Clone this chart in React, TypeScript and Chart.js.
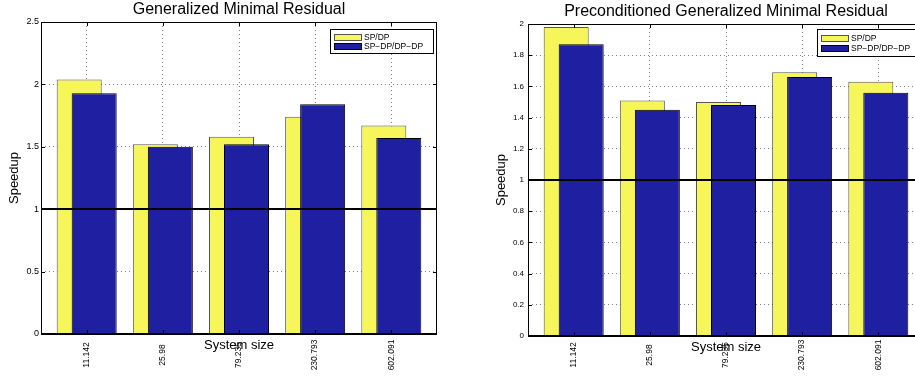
import React, { useEffect, useRef } from 'react';
import { Chart, registerables } from 'chart.js';

Chart.register(...registerables);

// ---------- data ----------
const systemSizes = ['11.142', '25.98', '79.235', '230.793', '602.091'];
const seriesLabels = ['SP/DP', 'SP\u2212DP/DP\u2212DP'];

const gmresSpDp = [2.04, 1.52, 1.58, 1.74, 1.67];
const gmresMixed = [1.93, 1.5, 1.52, 1.84, 1.57];
const pgmresSpDp = [1.98, 1.51, 1.5, 1.69, 1.63];
const pgmresMixed = [1.87, 1.45, 1.48, 1.66, 1.56];

const gmresYTicks = [0, 0.5, 1, 1.5, 2, 2.5];
const pgmresYTicks = [0, 0.2, 0.4, 0.6, 0.8, 1, 1.2, 1.4, 1.6, 1.8, 2];

const referenceSpeedup = 1;
const xLimits = [0.4, 5.6];

// ---------- style ----------
const FONT = "'Liberation Sans', Arial, Helvetica, sans-serif";
const YELLOW = '#f6f55a';
const YELLOW_EDGE = '#555555';
const BLUE = '#1f1fa1';
const BLUE_EDGE = '#000000';
const GRID = 'rgba(0,0,0,0.5)';

type Layout = {
  title: string;
  a: number[];
  b: number[];
  yTicks: number[];
  canvasLeft: number;
  canvasWidth: number;
  padRight: number;
  yWidth: number;
  xHeight: number;
  titlePadTop: number;
  titlePadBottom: number;
  yTitlePad: number;
  xTitlePad: number;
  yTickFont: number;
  yTickPad: number;
  xTickFont: number;
  xTickCenter: number;
  legendTop: number;
  legendHeight: number;
  legendRow: number;
  legendFont: number;
};

const leftLayout: Layout = {
  title: 'Generalized Minimal Residual',
  a: gmresSpDp,
  b: gmresMixed,
  yTicks: gmresYTicks,
  canvasLeft: 0,
  canvasWidth: 460,
  padRight: 23,
  yWidth: 41,
  xHeight: 42,
  titlePadTop: 2,
  titlePadBottom: 4,
  yTitlePad: 7,
  xTitlePad: 23,
  yTickFont: 9,
  yTickPad: 2,
  xTickFont: 8.5,
  xTickCenter: 355,
  legendTop: 7,
  legendHeight: 24,
  legendRow: 9,
  legendFont: 8.5,
};

const rightLayout: Layout = {
  title: 'Preconditioned Generalized Minimal Residual',
  a: pgmresSpDp,
  b: pgmresMixed,
  yTicks: pgmresYTicks,
  canvasLeft: 460,
  canvasWidth: 500,
  padRight: 36,
  yWidth: 68,
  xHeight: 40,
  titlePadTop: 3.5,
  titlePadBottom: 4.5,
  yTitlePad: 34,
  xTitlePad: 21,
  yTickFont: 8,
  yTickPad: 4,
  xTickFont: 8.5,
  xTickCenter: 355,
  legendTop: 5,
  legendHeight: 27,
  legendRow: 10,
  legendFont: 8.5,
};

const matlabPlugin = {
  id: 'matlab',
  beforeDatasetsDraw(chart: any) {
    // draw datasets in index order so the second series overlaps the first
    const metas = chart.getSortedVisibleDatasetMetas();
    for (const meta of metas) meta.controller.draw();
    return false;
  },
  afterDraw(chart: any, _args: any, opts: any) {
    const { ctx, chartArea: a, scales } = chart;
    const xs = scales.x;
    const ys = scales.y;
    const L: Layout = opts.layout;
    const left = Math.round(a.left);
    const right = Math.round(a.right);
    const top = Math.round(a.top);
    const bottom = Math.round(a.bottom);
    ctx.save();
    ctx.strokeStyle = '#000';
    ctx.lineCap = 'butt';

    // reference line at speedup = 1
    const yr = Math.round(ys.getPixelForValue(referenceSpeedup));
    ctx.lineWidth = 2;
    ctx.beginPath();
    ctx.moveTo(left, yr);
    ctx.lineTo(right, yr);
    ctx.stroke();

    // frame
    ctx.lineWidth = 1;
    ctx.beginPath();
    ctx.moveTo(left + 0.5, bottom);
    ctx.lineTo(left + 0.5, top + 0.5);
    ctx.lineTo(right - 0.5, top + 0.5);
    ctx.lineTo(right - 0.5, bottom);
    ctx.stroke();
    ctx.lineWidth = 2;
    ctx.beginPath();
    ctx.moveTo(left, bottom);
    ctx.lineTo(right, bottom);
    ctx.stroke();

    // inward tick marks
    ctx.lineWidth = 1;
    const tl = 4;
    ctx.beginPath();
    L.yTicks.forEach((v) => {
      const py = Math.round(ys.getPixelForValue(v)) + 0.5;
      ctx.moveTo(left, py);
      ctx.lineTo(left + tl, py);
      ctx.moveTo(right, py);
      ctx.lineTo(right - tl, py);
    });
    systemSizes.forEach((_, i) => {
      const px = Math.round(xs.getPixelForValue(i + 1)) + 0.5;
      ctx.moveTo(px, bottom);
      ctx.lineTo(px, bottom - tl);
      ctx.moveTo(px, top);
      ctx.lineTo(px, top + tl);
    });
    ctx.stroke();

    // rotated category labels (centered)
    ctx.fillStyle = '#000';
    ctx.font = `${L.xTickFont}px ${FONT}`;
    ctx.textAlign = 'center';
    ctx.textBaseline = 'middle';
    systemSizes.forEach((label, i) => {
      const px = xs.getPixelForValue(i + 1);
      ctx.save();
      ctx.translate(px, L.xTickCenter);
      ctx.rotate(-Math.PI / 2);
      ctx.fillText(label, 0, 0);
      ctx.restore();
    });

    // legend box
    const bw = 103;
    const bx = right - 4 - bw;
    const by = top + L.legendTop;
    ctx.fillStyle = '#fff';
    ctx.fillRect(bx, by, bw, L.legendHeight);
    ctx.lineWidth = 1;
    ctx.strokeStyle = '#000';
    ctx.strokeRect(bx + 0.5, by + 0.5, bw, L.legendHeight);
    const rowStart = by + (L.legendHeight - L.legendRow - 6) / 2 + 0.5;
    chart.data.datasets.forEach((ds: any, i: number) => {
      const sy = Math.round(rowStart + i * L.legendRow);
      ctx.fillStyle = ds.backgroundColor;
      ctx.fillRect(bx + 4, sy, 28, 6);
      ctx.strokeStyle = ds.borderColor;
      ctx.strokeRect(bx + 4.5, sy + 0.5, 27, 6);
      ctx.fillStyle = '#000';
      ctx.font = `${L.legendFont}px ${FONT}`;
      ctx.textAlign = 'left';
      ctx.textBaseline = 'middle';
      ctx.fillText(ds.label, bx + 34, sy + 3.5);
    });
    ctx.restore();
  },
};

function makeChart(canvas: HTMLCanvasElement, L: Layout) {
  const toPoints = (vals: number[]) => vals.map((v, i) => ({ x: i + 1, y: v }));
  return new Chart(canvas, {
    type: 'bar',
    data: {
      datasets: [
        {
          label: seriesLabels[0],
          data: toPoints(L.a),
          backgroundColor: YELLOW,
          borderColor: YELLOW_EDGE,
          borderWidth: 1,
        },
        {
          label: seriesLabels[1],
          data: toPoints(L.b),
          backgroundColor: BLUE,
          borderColor: BLUE_EDGE,
          borderWidth: 1,
        },
      ],
    } as any,
    options: {
      responsive: false,
      animation: false,
      devicePixelRatio: 1,
      events: [],
      layout: { padding: { left: 0, right: L.padRight, top: 0, bottom: 0 } },
      datasets: {
        bar: { categoryPercentage: 0.394, barPercentage: 3, grouped: true },
      },
      scales: {
        x: {
          type: 'linear',
          offset: false,
          min: xLimits[0],
          max: xLimits[1],
          afterBuildTicks: (s: any) => {
            s.ticks = systemSizes.map((_, i) => ({ value: i + 1 }));
          },
          afterFit: (s: any) => {
            s.height = L.xHeight;
          },
          ticks: { display: false },
          grid: { color: GRID, lineWidth: 1, drawTicks: false, offset: false },
          border: { display: false, dash: [1, 3] },
          title: {
            display: true,
            text: 'System size',
            color: '#000',
            font: { size: 13, family: FONT, lineHeight: 1.2 },
            padding: { top: 0, bottom: L.xTitlePad },
          },
        },
        y: {
          type: 'linear',
          min: L.yTicks[0],
          max: L.yTicks[L.yTicks.length - 1],
          afterBuildTicks: (s: any) => {
            s.ticks = L.yTicks.map((v) => ({ value: v }));
          },
          afterFit: (s: any) => {
            s.width = L.yWidth;
          },
          ticks: {
            color: '#000',
            font: { size: L.yTickFont, family: FONT },
            padding: L.yTickPad,
            callback: (v: any) => String(v),
          },
          grid: { color: GRID, lineWidth: 1, drawTicks: false },
          border: { display: false, dash: [1, 3] },
          title: {
            display: true,
            text: 'Speedup',
            color: '#000',
            font: { size: 13, family: FONT, lineHeight: 1.2 },
            padding: { top: L.yTitlePad, bottom: 0 },
          },
        },
      },
      plugins: {
        legend: { display: false },
        tooltip: { enabled: false },
        title: {
          display: true,
          text: L.title,
          fullSize: false,
          color: '#000',
          font: { size: 16, family: FONT, weight: 'normal', lineHeight: 1 },
          padding: { top: L.titlePadTop, bottom: L.titlePadBottom },
        },
        matlab: { layout: L },
      } as any,
    } as any,
    plugins: [matlabPlugin as any],
  });
}

export default function App() {
  const leftRef = useRef<HTMLCanvasElement>(null);
  const rightRef = useRef<HTMLCanvasElement>(null);

  useEffect(() => {
    const c1 = makeChart(leftRef.current as HTMLCanvasElement, leftLayout);
    const c2 = makeChart(rightRef.current as HTMLCanvasElement, rightLayout);
    return () => {
      c1.destroy();
      c2.destroy();
    };
  }, []);

  return (
    <div
      style={{
        position: 'absolute',
        left: 0,
        top: 0,
        width: 915,
        height: 376,
        overflow: 'hidden',
        background: '#fff',
      }}
    >
      <canvas
        ref={leftRef}
        width={leftLayout.canvasWidth}
        height={376}
        style={{ position: 'absolute', left: leftLayout.canvasLeft, top: 0 }}
      />
      <canvas
        ref={rightRef}
        width={rightLayout.canvasWidth}
        height={376}
        style={{ position: 'absolute', left: rightLayout.canvasLeft, top: 0 }}
      />
    </div>
  );
}
